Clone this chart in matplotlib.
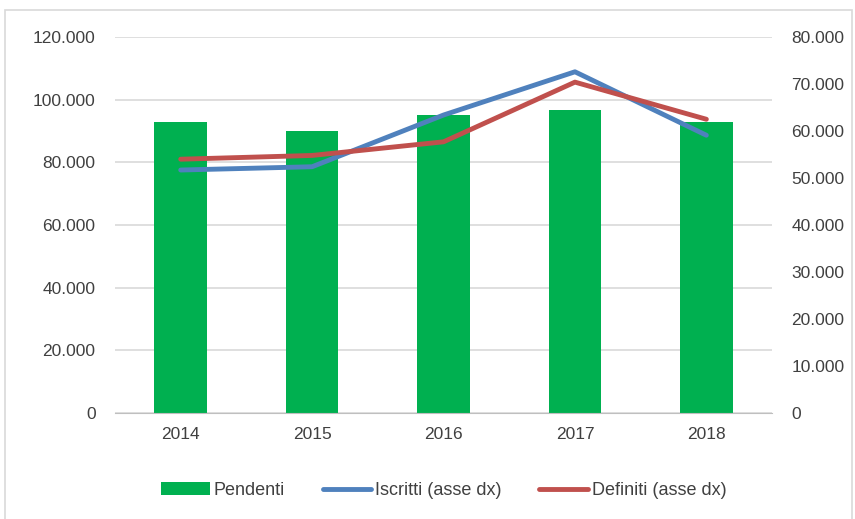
import matplotlib.pyplot as plt
from matplotlib.patches import Rectangle

anni = ["2014", "2015", "2016", "2017", "2018"]
pendenti = [92900, 89900, 95000, 96800, 92900]
iscritti = [51700, 52400, 63400, 72600, 59100]
definiti = [54000, 54800, 57700, 70400, 62500]

sx_ticks = [0, 20000, 40000, 60000, 80000, 100000, 120000]
dx_ticks = [0, 10000, 20000, 30000, 40000, 50000, 60000, 70000, 80000]

def fmt(v):
    return "{:,}".format(v).replace(",", ".")

plt.rcParams['font.family'] = ['Liberation Sans', 'DejaVu Sans']
fig = plt.figure(figsize=(8.55, 5.19), dpi=100)
fig.patches.append(Rectangle((0.006, -0.01), 0.99, 0.99, transform=fig.transFigure,
                             fill=False, edgecolor='#d9d9d9', linewidth=1.2))

ax = fig.add_axes([0.1345, 0.2042, 0.7685, 0.7245])
x = list(range(len(anni)))
b = ax.bar(x, pendenti, width=0.4, color='#00b050', label='Pendenti', zorder=2)
ax.set_ylim(0, 120000)
ax.set_xlim(-0.5, 4.5)
ax.set_yticks(sx_ticks)
ax.set_yticklabels([fmt(v) for v in sx_ticks], fontsize=12.5, color='#404040')
ax.set_xticks(x)
ax.set_xticklabels(anni, fontsize=12.5, color='#404040')
ax.tick_params(length=0, pad=10)
ax.tick_params(axis='y', pad=14)
ax.grid(axis='y', color='#d9d9d9', linewidth=1.2, zorder=0)
ax.set_axisbelow(True)
for s in ['top', 'right', 'left']:
    ax.spines[s].set_visible(False)
ax.spines['bottom'].set_color('#bfbfbf')

ax2 = ax.twinx()
l1, = ax2.plot(x, iscritti, color='#4f81bd', linewidth=3.5, label='Iscritti (asse dx)', solid_capstyle='round')
l2, = ax2.plot(x, definiti, color='#c0504d', linewidth=3.5, label='Definiti (asse dx)', solid_capstyle='round')
ax2.set_ylim(0, 80000)
ax2.set_yticks(dx_ticks)
ax2.set_yticklabels([fmt(v) for v in dx_ticks], fontsize=12.5, color='#404040')
ax2.tick_params(length=0, pad=14)
for s in ['top', 'right', 'left', 'bottom']:
    ax2.spines[s].set_visible(False)

fig.legend([b, l1, l2], ['Pendenti', 'Iscritti (asse dx)', 'Definiti (asse dx)'],
           loc='center', bbox_to_anchor=(0.519, 0.055), ncol=3, frameon=False,
           fontsize=13, handlelength=2.7, handletextpad=0.2, columnspacing=2.1,
           labelcolor='#404040')

fig.savefig('out.png', dpi=100)
